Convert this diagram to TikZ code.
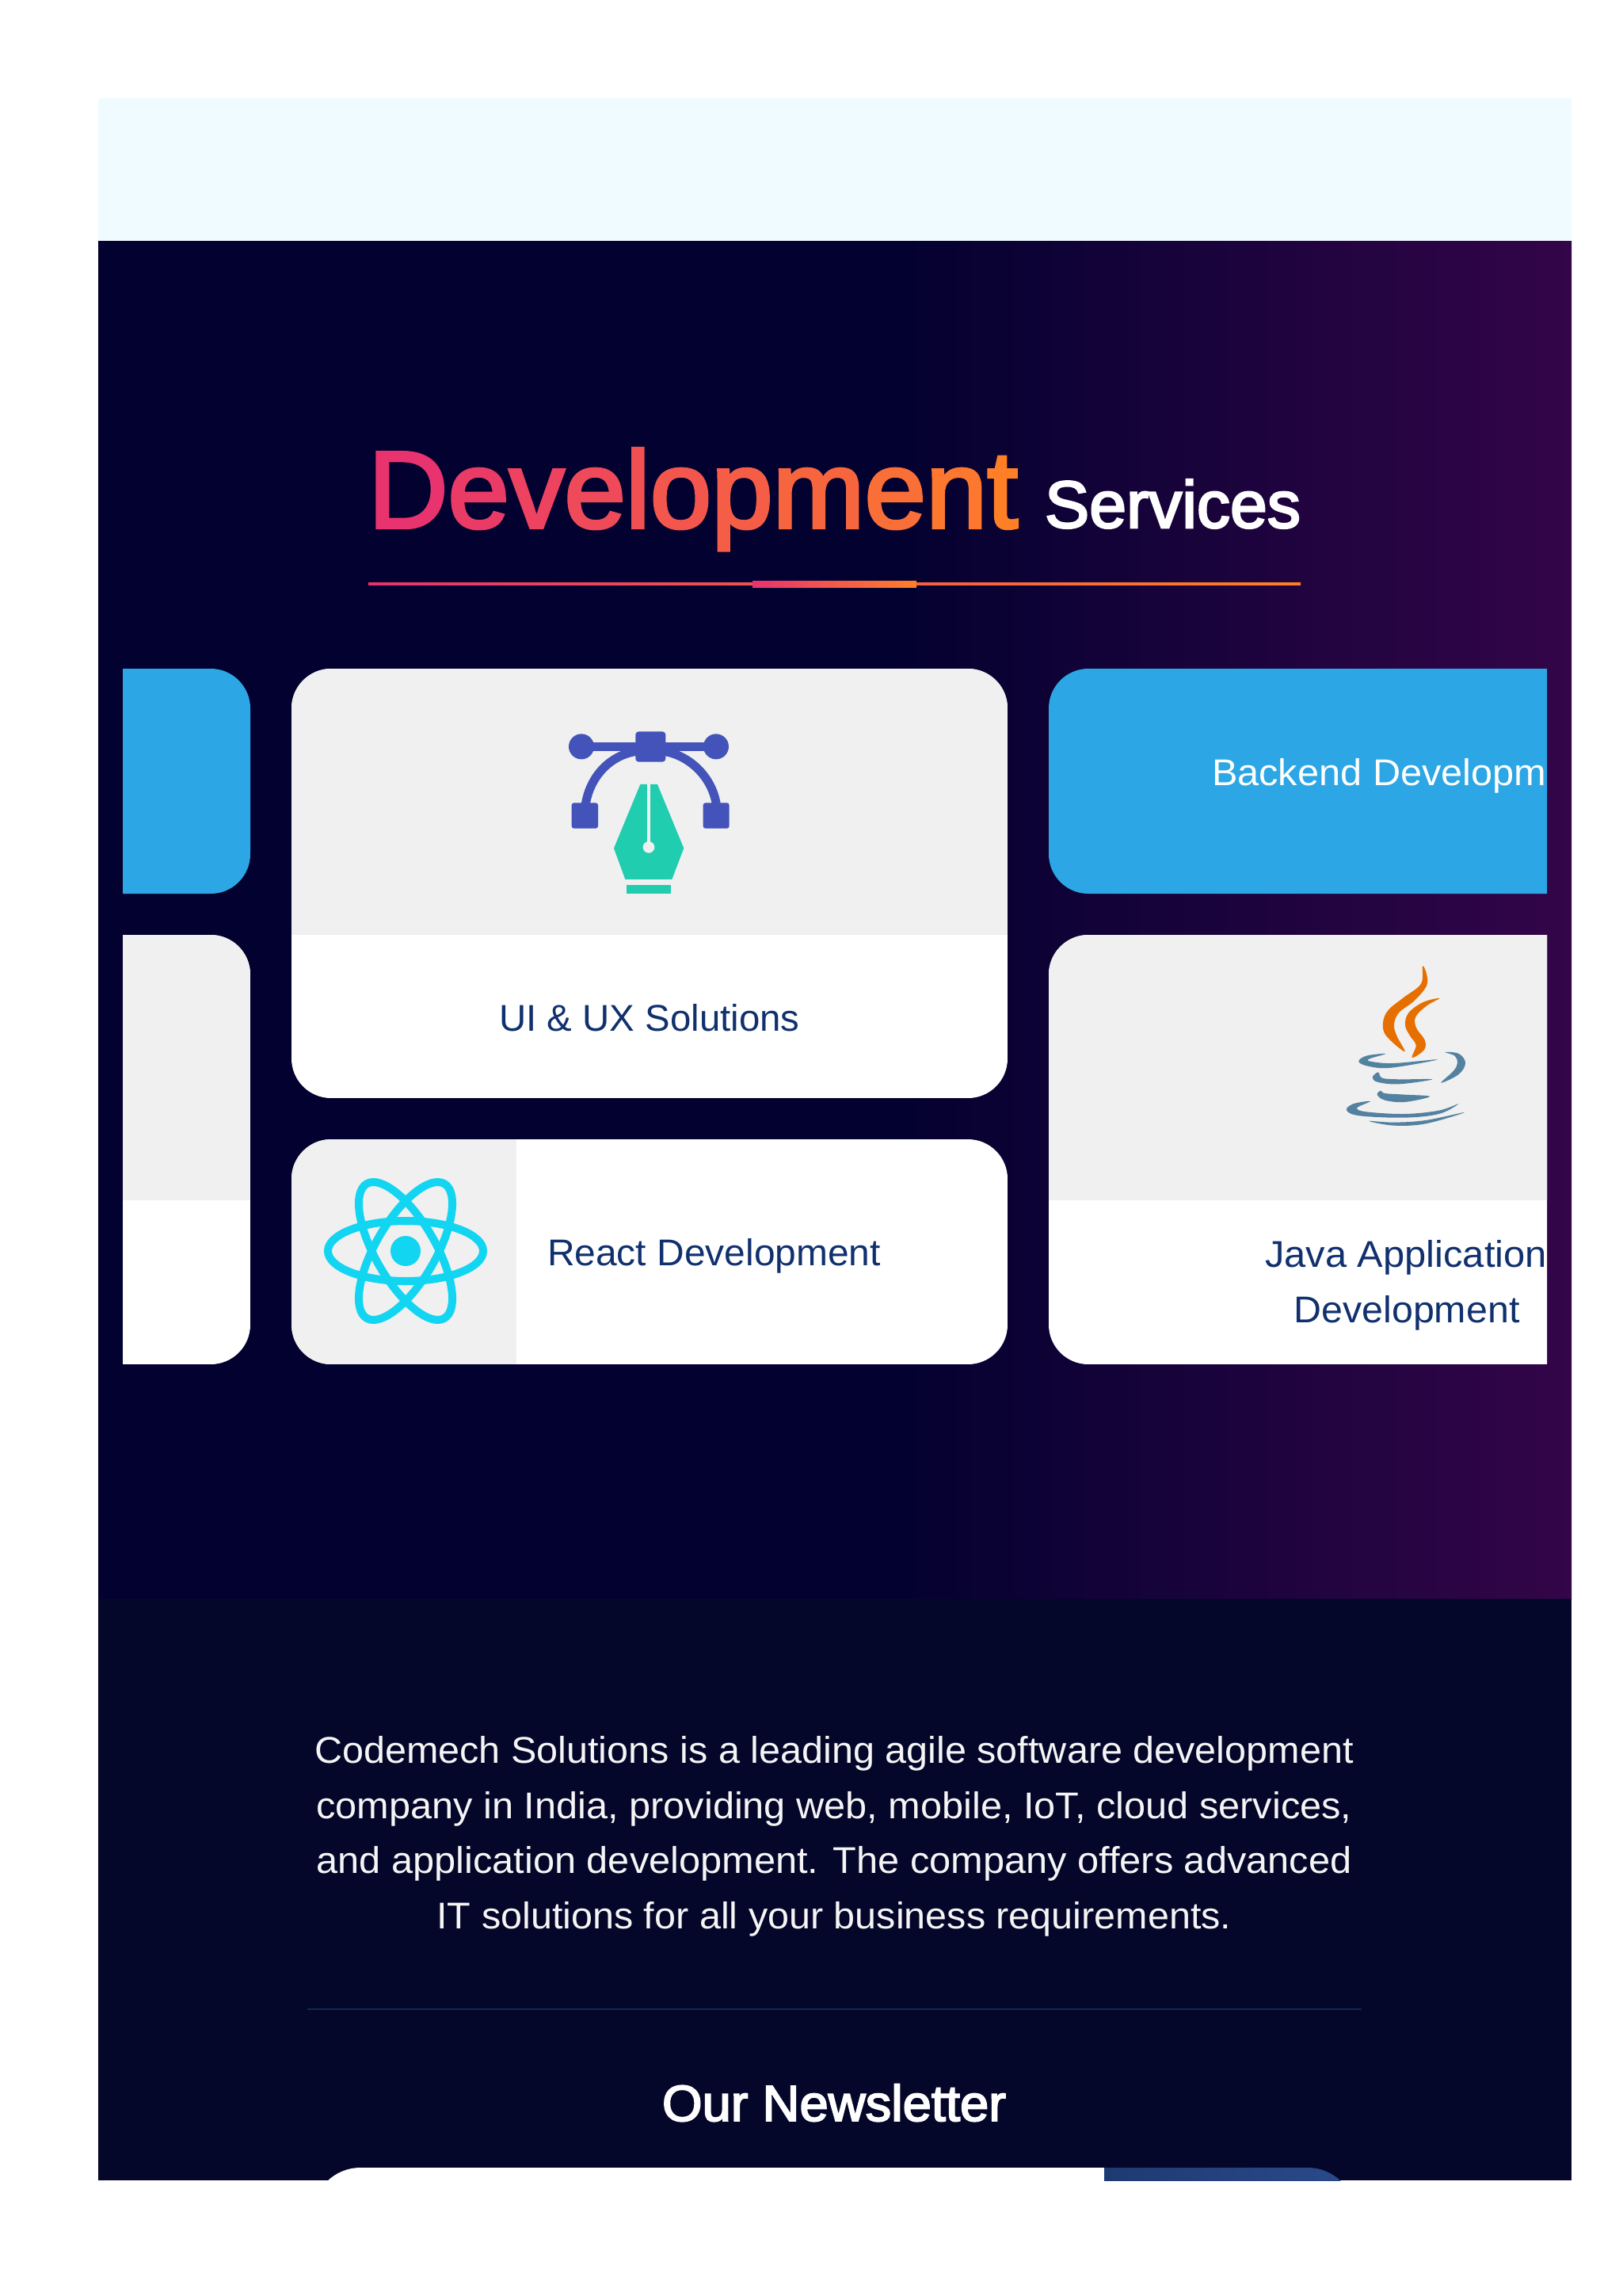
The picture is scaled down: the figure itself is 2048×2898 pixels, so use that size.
\documentclass[tikz,border=0pt]{standalone}
\usepackage{fontspec}
\usepackage{graphicx}
\setmainfont{Liberation Sans}
\newfontfamily\medf[FakeBold=3]{Liberation Sans}
\definecolor{bandc}{HTML}{F0FBFF}
\definecolor{darka}{HTML}{02012F}
\definecolor{darkb}{HTML}{330549}
\definecolor{footc}{HTML}{04062A}
\definecolor{grada}{HTML}{E8336E}
\definecolor{gradb}{HTML}{FF7F27}
\definecolor{cardblue}{HTML}{2CA6E4}
\definecolor{cardgray}{HTML}{F0F0F0}
\definecolor{navy}{HTML}{10306E}
\definecolor{penblue}{HTML}{4353B9}
\definecolor{nib}{HTML}{21CDAF}
\definecolor{atom}{HTML}{12D5F2}
\definecolor{flame}{HTML}{E76F00}
\definecolor{cup}{HTML}{5382A1}
\definecolor{rulec}{HTML}{0C2A55}
\definecolor{btna}{HTML}{1E3A72}
\definecolor{btnb}{HTML}{2B4A8A}
\pgfdeclarehorizontalshading{sectionshade}{100bp}{color(0bp)=(darka); color(25bp)=(darka); color(51.5bp)=(darka); color(75bp)=(darkb); color(100bp)=(darkb)}
\newcommand\fitw[2]{\resizebox{#1pt}{\height}{#2}}
\newcommand\gl[2]{\textcolor{gradb!#1!grada}{#2}}
\tikzset{
  lbl/.style={inner sep=0pt,outer sep=0pt,anchor=base,font=\fontsize{47}{50}\selectfont},
  cardlbl/.style={lbl,text=navy},
  paralbl/.style={lbl,text=white!96!black},
  crad/.style={rounded corners=50pt},
  gradfill/.style={left color=grada,right color=gradb,draw=none},
  penline/.style={draw=penblue,line width=11pt},
  atomline/.style={draw=atom,line width=10pt},
}
\begin{document}
\begin{tikzpicture}[x=1pt,y=-1pt]
\useasboundingbox (0,0) rectangle (2048,2898);
\fill[white] (0,0) rectangle (2048,2898);
\fill[bandc] (124,124) rectangle (1984,304);
\shade[shading=sectionshade] (124,304) rectangle (1984,2018);
\fill[footc] (124,2018) rectangle (1984,2752);

% heading
\node[lbl,anchor=base west,font=\medf\fontsize{138}{140}\selectfont] (devword) at (465,666) {\fitw{820}{\gl{0}{D}\gl{10}{e}\gl{20}{v}\gl{30}{e}\gl{38}{l}\gl{46}{o}\gl{55}{p}\gl{66}{m}\gl{78}{e}\gl{90}{n}\gl{100}{t}}};
\node[lbl,anchor=base west,text=white,font=\medf\fontsize{84}{86}\selectfont] (servword) at (1319,666) {\fitw{323}{Services}};
\shade[gradfill] (465,735.5) rectangle (1642,738.5);
\shade[gradfill] (950,733) rectangle (1157,741);

% cards
\begin{scope}
\clip (155,800) rectangle (1953,1760);
% left column
\fill[cardblue,crad] (-588,844) rectangle (316,1128);
\begin{scope}
\clip[crad] (-588,1180) rectangle (316,1722);
\fill[white] (-588,1180) rectangle (316,1722);
\fill[cardgray] (-588,1180) rectangle (316,1515);
\end{scope}
% centre card
\begin{scope}
\clip[crad] (368,844) rectangle (1272,1386);
\fill[white] (368,844) rectangle (1272,1386);
\fill[cardgray] (368,844) rectangle (1272,1180);
\end{scope}
\node[cardlbl] (uilbl) at (820,1301) {\fitw{379}{UI \& UX Solutions}};
% react card
\begin{scope}
\clip[crad] (368,1438) rectangle (1272,1722);
\fill[white] (368,1438) rectangle (1272,1722);
\fill[cardgray] (368,1438) rectangle (652,1722);
\end{scope}
\node[cardlbl,anchor=base west] (reactlbl) at (691,1597) {\fitw{421}{React Development}};
% right column
\fill[cardblue,crad] (1324,844) rectangle (2228,1128);
\node[lbl,anchor=base west,text=white] (backlbl) at (1530,991) {\fitw{490}{Backend Development}};
\begin{scope}
\clip[crad] (1324,1180) rectangle (2228,1722);
\fill[white] (1324,1180) rectangle (2228,1722);
\fill[cardgray] (1324,1180) rectangle (2228,1515);
\end{scope}
\node[cardlbl,anchor=base west] (javalbl) at (1597,1599) {\fitw{356}{Java Application}};
\node[cardlbl] (devlbl) at (1776,1669) {\fitw{285}{Development}};

% java icon
\begin{scope}[shift={(1660,1200)},x=0.3333pt,y=-0.3333pt]
\fill[flame] plot[smooth cycle,tension=0.6] coordinates {(408,58) (402,125) (335,178) (278,225) (258,272) (270,322) (340,382) (310,322) (300,280) (318,235) (376,190) (422,135) (424,92)};
\fill[flame] plot[smooth cycle,tension=0.6] coordinates {(472,180) (410,195) (355,235) (342,282) (360,322) (383,358) (368,405) (414,375) (416,338) (384,292) (382,250) (424,208)};
\fill[cup] plot[smooth cycle,tension=0.6] coordinates {(268,390) (195,398) (166,420) (205,438) (290,443) (465,412) (300,426) (215,420) (205,410)};
\fill[cup] plot[smooth cycle,tension=0.6] coordinates {(240,460) (218,480) (240,498) (320,505) (445,487) (320,487) (255,482)};
\fill[cup] plot[smooth cycle,tension=0.6] coordinates {(250,530) (236,545) (265,566) (340,573) (435,552) (340,545) (265,540)};
\fill[cup] plot[smooth cycle,tension=0.6] coordinates {(210,570) (145,580) (120,604) (170,625) (340,632) (470,618) (543,580) (470,605) (340,618) (195,610) (160,595)};
\fill[cup] plot[smooth cycle,tension=0.6] coordinates {(205,645) (300,662) (420,655) (567,612) (420,642) (300,650)};
\fill[cup] plot[smooth cycle,tension=0.6] coordinates {(492,384) (545,390) (570,425) (545,468) (478,500) (525,455) (540,425) (530,398)};
\end{scope}

% pen icon
\begin{scope}[shift={(660,880)},x=0.3333pt,y=-0.3333pt]
\draw[penline] (222,187) -- (732,187);
\draw[penline] (238,405) .. controls (255,300) and (330,220) .. (430,205);
\draw[penline] (733,405) .. controls (716,300) and (630,220) .. (535,205);
\fill[penblue] (222,187) circle (48);
\fill[penblue] (732,187) circle (48);
\fill[penblue,rounded corners=4pt] (427,130) rectangle (541,245);
\fill[penblue,rounded corners=3pt] (185,400) rectangle (285,497);
\fill[penblue,rounded corners=3pt] (683,400) rectangle (782,497);
\fill[nib] (445,330) -- (510,330) -- (610,572) -- (565,690) -- (388,690) -- (345,572) -- cycle;
\draw[cardgray,line width=4.5pt] (477,325) -- (477,560);
\fill[cardgray] (477,568) circle (22);
\fill[nib] (392,712) rectangle (562,744);
\end{scope}

% react icon
\begin{scope}[shift={(512,1579)}]
\fill[atom] (0,0) circle (19);
\draw[atomline] (0,0) ellipse [x radius=98,y radius=38];
\draw[atomline,rotate=60] (0,0) ellipse [x radius=98,y radius=38];
\draw[atomline,rotate=120] (0,0) ellipse [x radius=98,y radius=38];
\end{scope}
\end{scope}

% footer text
\node[paralbl] (p1) at (1053,2225) {\fitw{1312}{Codemech Solutions is a leading agile software development}};
\node[paralbl] (p2) at (1053,2295) {\fitw{1307}{company in India, providing web, mobile, IoT, cloud services,}};
\node[paralbl] (p3) at (1053,2364) {\fitw{1307}{and application development. The company offers advanced}};
\node[paralbl] (p4) at (1053,2434) {\fitw{1003}{IT solutions for all your business requirements.}};
\draw[rulec,line width=2.5pt] (388,2536) -- (1719,2536);
\node[lbl,text=white,font=\medf\fontsize{64}{66}\selectfont] (news) at (1053,2677) {\fitw{434}{Our Newsletter}};

% newsletter form, cut by the page edge
\begin{scope}
\clip (124,2700) rectangle (1984,2752);
\begin{scope}
\clip[rounded corners=60pt] (395,2736) rectangle (1711,2900);
\fill[white] (395,2736) rectangle (1394,2900);
\shade[left color=btna,right color=btnb] (1394,2736) rectangle (1711,2900);
\end{scope}
\end{scope}
\end{tikzpicture}
\end{document}
